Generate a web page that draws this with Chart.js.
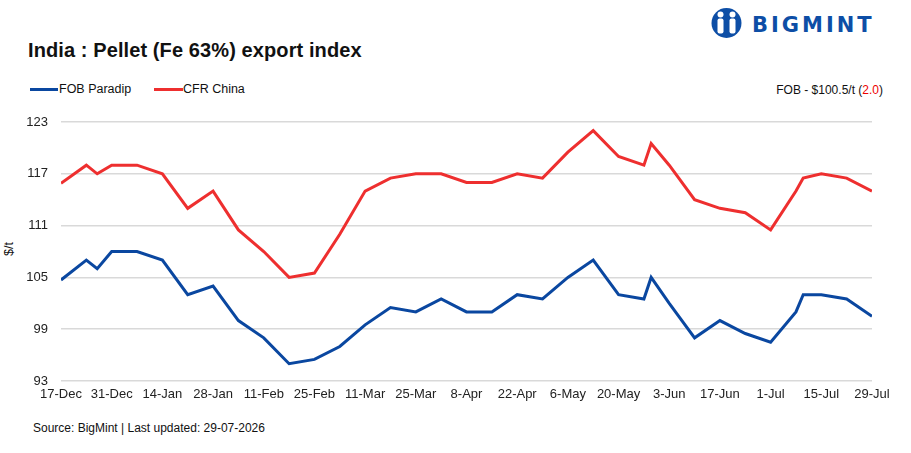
<!DOCTYPE html>
<html>
<head>
<meta charset="utf-8">
<script src="https://cdn.jsdelivr.net/npm/chart.js@4.4.1/dist/chart.umd.min.js"></script>
<style>
  body { margin: 0; background: #fff; font-family: "Liberation Sans", Arial, sans-serif; }
  #wrap { position: relative; width: 911px; height: 453px; overflow: hidden; }
  .abs { position: absolute; white-space: nowrap; color: #111; }
  #title { left: 28px; top: 39px; font-size: 20px; font-weight: bold; letter-spacing: 0.1px; }
  .leg { top: 82px; font-size: 12.5px; }
  .legline { position: absolute; height: 3px; top: 88px; }
  #fob { right: 28px; top: 83px; font-size: 12px; }
  #unit { left: 2px; top: 242px; font-size: 12.5px; transform: rotate(-90deg); }
  #src { left: 33px; top: 421px; font-size: 12px; }
  #logo { left: 710px; top: 7px; }
  #logotxt { left: 752px; top: 13px; font-size: 21px; font-weight: bold; color: #0d4ea6; letter-spacing: 3px; font-family: "DejaVu Sans", sans-serif; }
  #chartBox { position: absolute; left: 0; top: 100px; width: 911px; height: 310px; }
</style>
</head>
<body>
<div id="wrap">
  <svg class="abs" id="logo" width="33" height="32" viewBox="0 0 32 32">
    <circle cx="16" cy="16" r="15" fill="#0d4ea6"/>
    <circle cx="10" cy="7.5" r="3" fill="#fff"/>
    <circle cx="22" cy="7.5" r="3" fill="#fff"/>
    <rect x="7" y="11.5" width="6" height="15" rx="2" fill="#fff"/>
    <rect x="19" y="11.5" width="6" height="15" rx="2" fill="#fff"/>
    <circle cx="16" cy="13" r="2.5" fill="#0d4ea6"/>
  </svg>
  <div class="abs" id="logotxt">BIGMINT</div>
  <div class="abs" id="title">India : Pellet (Fe 63%) export index</div>
  <div class="legline" style="left:30px;width:28px;background:#0a47a0"></div>
  <div class="abs leg" style="left:59px">FOB Paradip</div>
  <div class="legline" style="left:154px;width:29px;background:#ee2f2f"></div>
  <div class="abs leg" style="left:183px">CFR China</div>
  <div class="abs" id="fob">FOB - $100.5/t (<span style="color:#e00">2.0</span>)</div>
  <div class="abs" id="unit">$/t</div>
  <div class="abs" id="src">Source: BigMint | Last updated: 29-07-2026</div>
  <div id="chartBox"><canvas id="chartPellet"></canvas></div>
</div>
<script>
// days after 17-Dec
const dias = [0, 7, 10, 14, 21, 28, 35, 42, 49, 56, 63, 70, 77, 84, 91, 98, 105, 112, 119, 126, 133, 140, 147, 154, 161, 163, 168, 175, 182, 189, 196, 203, 205, 210, 217, 224];
const fobParadip = [104.7, 107, 106, 108, 108, 107, 103, 104, 100, 98, 95, 95.5, 97, 99.5, 101.5, 101, 102.5, 101, 101, 103, 102.5, 105, 107, 103, 102.5, 105, 102, 98, 100, 98.5, 97.5, 101, 103, 103, 102.5, 100.5];
const cfrChina = [115.9, 118, 117, 118, 118, 117, 113, 115, 110.5, 108, 105, 105.5, 110, 115, 116.5, 117, 117, 116, 116, 117, 116.5, 119.5, 122, 119, 118, 120.5, 118, 114, 113, 112.5, 110.5, 115, 116.5, 117, 116.5, 115];
const etiquetasX = ['17-Dec', '31-Dec', '14-Jan', '28-Jan', '11-Feb', '25-Feb', '11-Mar', '25-Mar', '8-Apr', '22-Apr', '6-May', '20-May', '3-Jun', '17-Jun', '1-Jul', '15-Jul', '29-Jul'];
const yTicks = [93, 99, 105, 111, 117, 123];

const ctx = document.getElementById('chartPellet').getContext('2d');

const puntos = (serie) => dias.map((d, i) => ({ x: d, y: serie[i] }));

const chartPellet = new Chart(ctx, {
    type: 'line',
    data: {
        datasets: [{
            label: 'FOB Paradip',
            data: puntos(fobParadip),
            borderColor: '#0a47a0',
            borderWidth: 3,
            pointRadius: 0,
            tension: 0
        }, {
            label: 'CFR China',
            data: puntos(cfrChina),
            borderColor: '#ee2f2f',
            borderWidth: 3,
            pointRadius: 0,
            tension: 0
        }]
    },
    options: {
        responsive: true,
        maintainAspectRatio: false,
        animation: false,
        layout: { padding: { left: 0, right: 39, top: 22, bottom: 0 } },
        plugins: { legend: { display: false }, tooltip: { enabled: false } },
        scales: {
            x: {
                type: 'linear',
                min: 0,
                max: 224,
                afterBuildTicks: (s) => { s.ticks = etiquetasX.map((_, i) => ({ value: i * 14 })); },
                afterFit: (s) => { s.height = 29; },
                grid: { display: false, drawTicks: false },
                border: { display: false },
                ticks: {
                    padding: 6,
                    maxRotation: 0,
                    autoSkip: false,
                    color: '#222',
                    font: { family: 'Liberation Sans', size: 13 },
                    callback: (v) => etiquetasX[Math.round(v / 14)]
                }
            },
            y: {
                min: 93,
                max: 123,
                afterBuildTicks: (s) => { s.ticks = yTicks.map(v => ({ value: v })); },
                afterFit: (s) => { s.width = 61; },
                grid: { color: '#d9d9d9', lineWidth: 1.5, drawTicks: false },
                border: { display: false },
                ticks: {
                    padding: 13,
                    color: '#222',
                    font: { family: 'Liberation Sans', size: 13 }
                }
            }
        }
    }
});
</script>
</body>
</html>
